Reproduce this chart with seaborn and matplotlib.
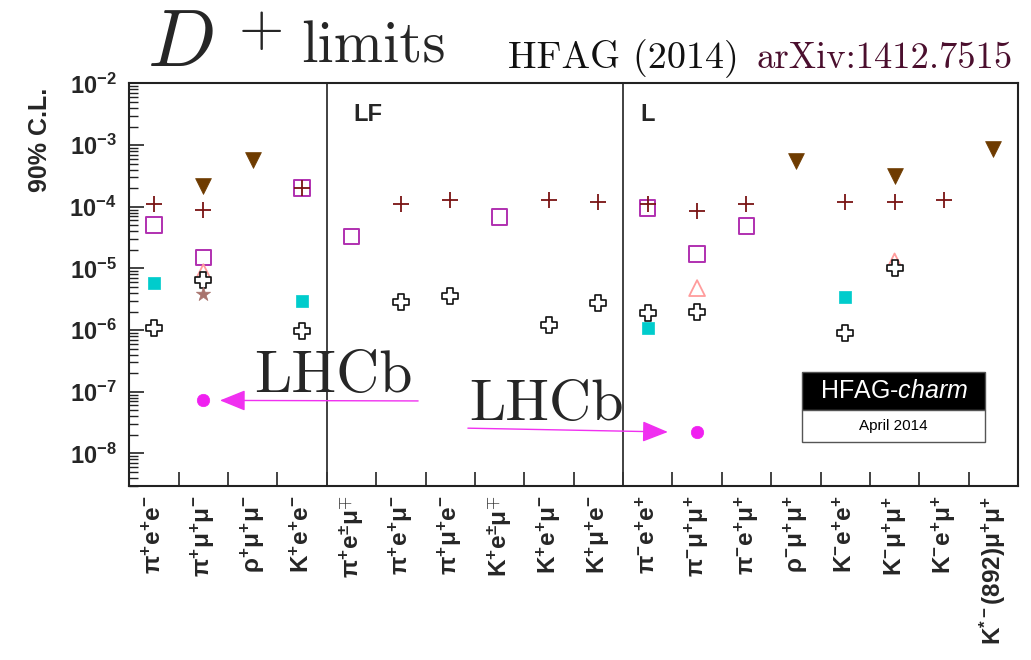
import numpy as np
import pandas as pd
import matplotlib
matplotlib.use("Agg")
import matplotlib.pyplot as plt
import matplotlib.ticker as mticker
from matplotlib.patches import Rectangle
import seaborn as sns

# ---------------- data ----------------
categories = ['pi+e+e-', 'pi+mu+mu-', 'rho+mu+mu-', 'K+e+e-',
              'pi+e+-mu-+', 'pi+e+mu-', 'pi+mu+e-', 'K+e+-mu-+', 'K+e+mu-', 'K+mu+e-',
              'pi-e+e+', 'pi-mu+mu+', 'pi-e+mu+', 'rho-mu+mu+', 'K-e+e+', 'K-mu+mu+',
              'K-e+mu+', 'K*-mu+mu+']
tick_labels = [r'$\mathbf{\pi^{+}e^{+}e^{-}}$', r'$\mathbf{\pi^{+}\mu^{+}\mu^{-}}$',
               r'$\mathbf{\rho^{+}\mu^{+}\mu^{-}}$', r'$\mathbf{K^{+}e^{+}e^{-}}$',
               r'$\mathbf{\pi^{+}e^{\pm}\mu^{\mp}}$', r'$\mathbf{\pi^{+}e^{+}\mu^{-}}$',
               r'$\mathbf{\pi^{+}\mu^{+}e^{-}}$', r'$\mathbf{K^{+}e^{\pm}\mu^{\mp}}$',
               r'$\mathbf{K^{+}e^{+}\mu^{-}}$', r'$\mathbf{K^{+}\mu^{+}e^{-}}$',
               r'$\mathbf{\pi^{-}e^{+}e^{+}}$', r'$\mathbf{\pi^{-}\mu^{+}\mu^{+}}$',
               r'$\mathbf{\pi^{-}e^{+}\mu^{+}}$', r'$\mathbf{\rho^{-}\mu^{+}\mu^{+}}$',
               r'$\mathbf{K^{-}e^{+}e^{+}}$', r'$\mathbf{K^{-}\mu^{+}\mu^{+}}$',
               r'$\mathbf{K^{-}e^{+}\mu^{+}}$', r'$\mathbf{K^{*-}(892)\mu^{+}\mu^{+}}$']

sq_cats = ['pi+e+e-', 'pi+mu+mu-', 'K+e+e-', 'pi+e+-mu-+', 'K+e+-mu-+', 'pi-e+e+', 'pi-mu+mu+', 'pi-e+mu+']
sq_vals = [5.1e-5, 1.5e-5, 2.0e-4, 3.3e-5, 6.8e-5, 9.5e-5, 1.7e-5, 4.9e-5]

ptri_cats = ['pi+mu+mu-', 'pi-mu+mu+', 'K-mu+mu+']
ptri_vals = [8.7e-6, 4.8e-6, 1.3e-5]

ocross_cats = ['pi+e+e-', 'pi+mu+mu-', 'K+e+e-', 'pi+e+mu-', 'pi+mu+e-', 'K+e+mu-', 'K+mu+e-',
               'pi-e+e+', 'pi-mu+mu+', 'K-e+e+', 'K-mu+mu+']
ocross_vals = [1.1e-6, 6.5e-6, 9.8e-7, 2.9e-6, 3.6e-6, 1.2e-6, 2.8e-6, 1.9e-6, 2.0e-6, 8.9e-7, 1.0e-5]

star_cats = ['pi+mu+mu-']
star_vals = [3.9e-6]

cyan_cats = ['pi+e+e-', 'K+e+e-', 'pi-e+e+', 'K-e+e+']
cyan_vals = [5.8e-6, 3.0e-6, 1.1e-6, 3.4e-6]

plus_cats = ['pi+e+e-', 'pi+mu+mu-', 'K+e+e-', 'pi+e+mu-', 'pi+mu+e-', 'K+e+mu-', 'K+mu+e-',
             'pi-e+e+', 'pi-mu+mu+', 'pi-e+mu+', 'K-e+e+', 'K-mu+mu+', 'K-e+mu+']
plus_vals = [1.1e-4, 8.7e-5, 2.0e-4, 1.1e-4, 1.3e-4, 1.3e-4, 1.2e-4, 1.1e-4, 8.5e-5, 1.1e-4,
             1.2e-4, 1.2e-4, 1.3e-4]

dtri_cats = ['pi+mu+mu-', 'rho+mu+mu-', 'rho-mu+mu+', 'K-mu+mu+', 'K*-mu+mu+']
dtri_vals = [2.2e-4, 5.7e-4, 5.6e-4, 3.1e-4, 8.5e-4]

lhcb_cats = ['pi+mu+mu-', 'pi-mu+mu+']
lhcb_vals = [7.3e-8, 2.2e-8]

series = [
    ("square", sq_cats, sq_vals),
    ("ptri", ptri_cats, ptri_vals),
    ("ocross", ocross_cats, ocross_vals),
    ("star", star_cats, star_vals),
    ("cyan", cyan_cats, cyan_vals),
    ("plus", plus_cats, plus_vals),
    ("dtri", dtri_cats, dtri_vals),
    ("lhcb", lhcb_cats, lhcb_vals),
]
rows = []
for name, cats, vals in series:
    for c, v in zip(cats, vals):
        rows.append({"series": name, "category": c, "pos": categories.index(c), "value": v})
df = pd.DataFrame(rows)

styles = {
    "square": dict(marker="s", s=125, facecolor="none", edgecolor="#B030B0", linewidth=1.4, zorder=3),
    "ptri":   dict(marker="^", s=130, facecolor="none", edgecolor="#FF9C9C", linewidth=1.3, zorder=3),
    "ocross": dict(marker="P", s=125, facecolor="white", edgecolor="#111111", linewidth=1.2, zorder=4),
    "star":   dict(marker="*", s=115, facecolor="#A8736C", edgecolor="#A8736C", linewidth=0.5, zorder=4),
    "cyan":   dict(marker="s", s=85, facecolor="#00CCCC", edgecolor="#00CCCC", linewidth=0.5, zorder=4),
    "plus":   dict(marker="+", s=130, facecolor="#7A1414", edgecolor="#7A1414", linewidth=1.3, zorder=5),
    "dtri":   dict(marker="v", s=130, facecolor="#6E3B00", edgecolor="#6E3B00", linewidth=0.5, zorder=5),
    "lhcb":   dict(marker="o", s=80, facecolor="#F020F0", edgecolor="#F020F0", linewidth=0.5, zorder=5),
}

# ---------------- style ----------------
sns.set_style("ticks")
plt.rcParams["font.family"] = ["Liberation Sans", "DejaVu Sans"]
plt.rcParams["mathtext.fontset"] = "custom"
plt.rcParams["mathtext.rm"] = "Liberation Sans"
plt.rcParams["mathtext.bf"] = "Liberation Sans:bold"
plt.rcParams["mathtext.it"] = "Liberation Sans:italic"
plt.rcParams["mathtext.sf"] = "Liberation Sans"

fig = plt.figure(figsize=(10.31, 6.60), dpi=100)
ax = fig.add_axes([0.1254, 0.2641, 0.8620, 0.6095])

for name, _, _ in series:
    sub = df[df["series"] == name]
    st = dict(styles[name])
    sns.scatterplot(data=sub, x="pos", y="value", ax=ax, legend=False, color=st["edgecolor"], **st)

ax.set_yscale("log")
ax.set_ylim(3e-9, 1e-2)
ax.set_xlim(-0.5, len(categories) - 0.5)

# separators between groups
for xb in (3.5, 9.5):
    ax.axvline(xb, color="#333333", lw=1.3, zorder=1)

# y axis ticks
ax.yaxis.set_major_locator(mticker.LogLocator(base=10, numticks=20))
ax.yaxis.set_minor_locator(mticker.LogLocator(base=10, subs=np.arange(2, 10), numticks=20))
ax.yaxis.set_major_formatter(mticker.FuncFormatter(lambda v, _: r"$\mathbf{10^{%d}}$" % round(np.log10(v))))
ax.yaxis.set_minor_formatter(mticker.NullFormatter())
ax.tick_params(axis="y", which="major", direction="in", length=11, width=1.2, labelsize=17, pad=9, color="#222222")
ax.tick_params(axis="y", which="minor", direction="in", length=6.5, width=1.0, color="#222222")

# x axis ticks
ax.set_xticks(range(len(categories)))
ax.set_xticklabels(tick_labels, rotation=90, fontsize=17.5)
ax.xaxis.set_minor_locator(mticker.FixedLocator(np.arange(0.5, len(categories) - 0.5, 1.0)))
ax.tick_params(axis="x", which="major", length=0, pad=7)
ax.tick_params(axis="x", which="minor", direction="in", length=10, width=1.2, color="#222222")

ax.set_xlabel("")
ax.set_ylabel("")
for sp in ax.spines.values():
    sp.set_visible(True)
    sp.set_linewidth(1.5)
    sp.set_color("#222222")

# group labels
ax.text(0.2517, 0.9066, "LF", transform=ax.transAxes, fontsize=17, fontweight="bold", va="baseline")
ax.text(0.5747, 0.9066, "L", transform=ax.transAxes, fontsize=17, fontweight="bold", va="baseline")

# LHCb annotations
ax.text(0.141, 0.233, "LHCb", transform=ax.transAxes, fontsize=43, family="cmr10", va="baseline")
ax.text(0.383, 0.163, "LHCb", transform=ax.transAxes, fontsize=42, family="cmr10", va="baseline")
arrow_kw = dict(arrowstyle="-|>,head_length=1.6,head_width=0.65", color="#F030F0", lw=1.0,
                shrinkA=0, shrinkB=0)
ax.annotate("", xy=(0.102, 0.212), xytext=(0.325, 0.2107), xycoords="axes fraction",
            textcoords="axes fraction", arrowprops=arrow_kw)
ax.annotate("", xy=(0.606, 0.1335), xytext=(0.381, 0.143), xycoords="axes fraction",
            textcoords="axes fraction", arrowprops=arrow_kw)

# HFAG-charm box
ax.add_patch(Rectangle((0.757, 0.1882), 0.206, 0.0944, transform=ax.transAxes,
                       facecolor="black", edgecolor="#555555", lw=1.0, zorder=6))
ax.add_patch(Rectangle((0.757, 0.1086), 0.206, 0.0796, transform=ax.transAxes,
                       facecolor="white", edgecolor="#555555", lw=1.0, zorder=6))
ax.text(0.860, 0.2354, r"HFAG-$\mathit{charm}$", transform=ax.transAxes, color="white",
        fontsize=18, ha="center", va="center", zorder=7)
ax.text(0.860, 0.148, "April 2014", transform=ax.transAxes, color="black",
        fontsize=11, ha="center", va="center", zorder=7)

# titles
fig.text(0.143, 0.900, r"$D$", fontsize=58, math_fontfamily="cm", va="baseline")
fig.text(0.232, 0.932, "+", fontsize=42, family="cmr10", va="baseline")
fig.text(0.292, 0.906, "limits", fontsize=42.5, family="cmr10", va="baseline")
fig.text(0.4927, 0.897, "HFAG (2014)", fontsize=27.5, family="cmr10", va="baseline", color="#111111")
fig.text(0.734, 0.897, "arXiv:1412.7515", fontsize=26.3, family="cmr10", va="baseline", color="#4B0F2E")

# y label
fig.text(0.039, 0.867, "90% C.L.", rotation=90, fontsize=18, fontweight="bold",
         ha="center", va="top")

fig.savefig("out.png", dpi=100)
